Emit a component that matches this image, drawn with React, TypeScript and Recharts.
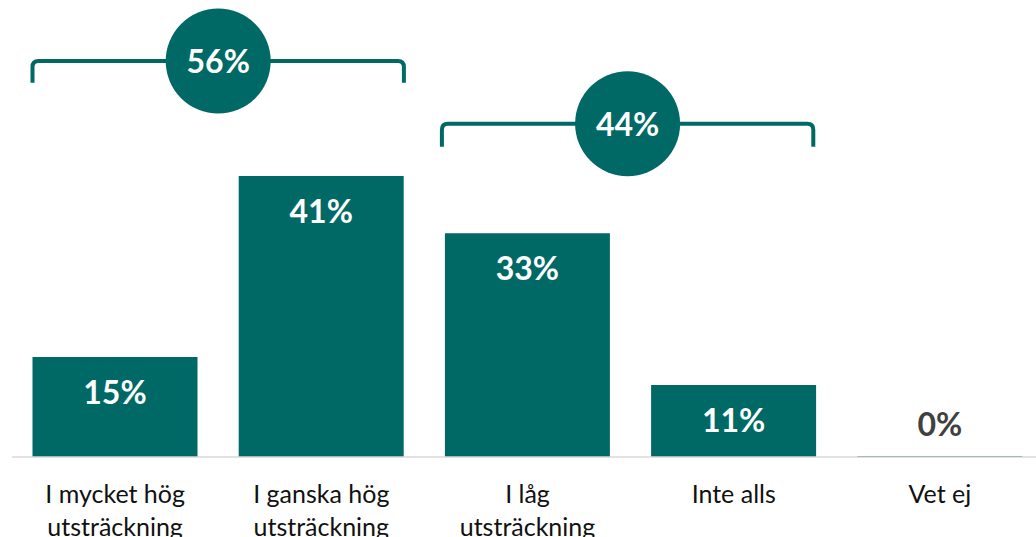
import { Bar, BarChart, LabelList, ReferenceArea, XAxis, YAxis } from 'recharts';

const categories = [
  'I mycket hög utsträckning',
  'I ganska hög utsträckning',
  'I låg utsträckning',
  'Inte alls',
  'Vet ej',
];
const shares = [14.7, 41.3, 32.9, 10.6, 0];

// grouped totals shown in the circles
const groupFirst = ['I mycket hög utsträckning', 'I låg utsträckning'];
const groupLast = ['I ganska hög utsträckning', 'Inte alls'];
const groupTotals = [56, 44];

const data = categories.map((name, i) => ({ name, value: shares[i] }));

const TEAL = '#006965';
const GAP = 20.5;
const FONT = 'Lato, "Noto Sans", sans-serif';

const wrap = (text: string, max = 12) => {
  const lines: string[] = [];
  let cur = '';
  text.split(' ').forEach((w) => {
    const next = cur ? cur + ' ' + w : w;
    if (next.length > max && cur) {
      lines.push(cur);
      cur = w;
    } else {
      cur = next;
    }
  });
  if (cur) lines.push(cur);
  return lines;
};

const CategoryTick = ({ x, y, payload }: any) => (
  <text x={x} y={y} textAnchor="middle" fontFamily={FONT} fontSize={25} fill="#111">
    {wrap(payload.value).map((line, i) => (
      <tspan key={i} x={x} dy={i === 0 ? 38 : 33}>
        {line}
      </tspan>
    ))}
  </text>
);

const ValueLabel = ({ x, y, width, value }: any) => {
  const zero = value === 0;
  return (
    <text
      x={x + width / 2}
      y={zero ? y - 20 : y + 47}
      textAnchor="middle"
      fontFamily={FONT}
      fontWeight={700}
      fontSize={32}
      fill={zero ? '#404040' : '#fff'}
    >
      {Math.round(value)}%
    </text>
  );
};

const bracketShape = (total: number, shift: number) => (props: any) => {
  const { x, y, width, height } = props;
  const l = x + GAP + shift;
  const r = x + width - GAP + shift;
  const c = 6;
  const cx = (l + r) / 2;
  return (
    <g>
      <path
        d={`M${l},${y + height} L${l},${y + c} Q${l},${y} ${l + c},${y} L${r - c},${y} Q${r},${y} ${r},${y + c} L${r},${y + height}`}
        fill="none"
        stroke={TEAL}
        strokeWidth={4}
      />
      <circle cx={cx} cy={y} r={52.5} fill={TEAL} />
      <text x={cx} y={y + 12} textAnchor="middle" fontFamily={FONT} fontWeight={700} fontSize={32} fill="#fff">
        {total}%
      </text>
    </g>
  );
};

const bracketTop = [58.2, 49];
const bracketBottom = [55, 45.6];
const bracketShift = [0, -3];

export default function App() {
  return (
    <div style={{ position: 'absolute', left: 0, top: 0, width: 1036, height: 537, overflow: 'hidden', background: '#fff' }}>
      <BarChart
        width={1043}
        height={537}
        data={data}
        margin={{ top: 8, right: 0, left: 12, bottom: 0 }}
        barCategoryGap={GAP}
      >
        <XAxis
          dataKey="name"
          height={80}
          tickLine={false}
          axisLine={{ stroke: '#d9d9d9', strokeWidth: 1.5 }}
          tick={<CategoryTick />}
          interval={0}
        />
        <YAxis hide domain={[0, 66]} />
        <Bar dataKey="value" fill={TEAL} minPointSize={1} isAnimationActive={false}>
          <LabelList dataKey="value" content={<ValueLabel />} />
        </Bar>
        {groupTotals.map((total, i) => (
          <ReferenceArea
            key={i}
            x1={groupFirst[i]}
            x2={groupLast[i]}
            y1={bracketBottom[i]}
            y2={bracketTop[i]}
            ifOverflow="visible"
            shape={bracketShape(total, bracketShift[i])}
          />
        ))}
      </BarChart>
    </div>
  );
}
